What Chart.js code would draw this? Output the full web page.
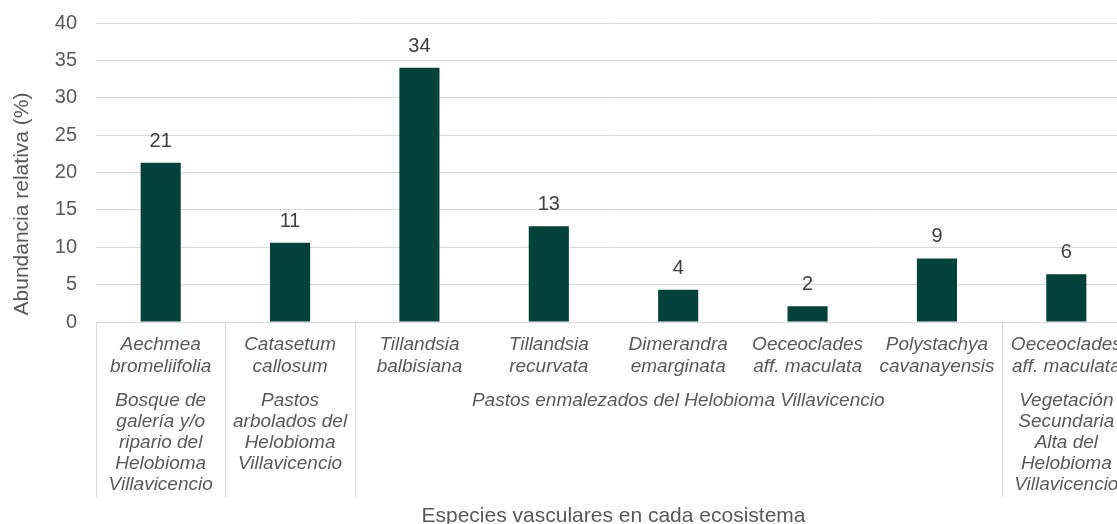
<!DOCTYPE html>
<html>
<head>
<meta charset="utf-8">
<script src="https://cdn.jsdelivr.net/npm/chart.js@4/dist/chart.umd.min.js"></script>
<style>
  html, body { margin: 0; padding: 0; background: #fff; overflow: hidden; }
  #wrap { width: 1140px; height: 524px; }
</style>
</head>
<body>
<div id="wrap"><canvas id="chart" width="1140" height="524"></canvas></div>
<script>
// species (first row of the category axis), one per bar
const species = [
  ["Aechmea", "bromeliifolia"],
  ["Catasetum", "callosum"],
  ["Tillandsia", "balbisiana"],
  ["Tillandsia", "recurvata"],
  ["Dimerandra", "emarginata"],
  ["Oeceoclades", "aff. maculata"],
  ["Polystachya", "cavanayensis"],
  ["Oeceoclades", "aff. maculata"]
];
// ecosystems (second row), with the first and last bar index they cover
const ecosystems = [
  { lines: ["Bosque de", "galería y/o", "ripario del", "Helobioma", "Villavicencio"], from: 0, to: 0 },
  { lines: ["Pastos", "arbolados del", "Helobioma", "Villavicencio"], from: 1, to: 1 },
  { lines: ["Pastos enmalezados del Helobioma Villavicencio"], from: 2, to: 6 },
  { lines: ["Vegetación", "Secundaria", "Alta del", "Helobioma", "Villavicencio"], from: 7, to: 7 }
];
const abundance = [21.3, 10.6, 34.0, 12.8, 4.3, 2.1, 8.5, 6.4];
const yTicks = [0, 5, 10, 15, 20, 25, 30, 35, 40];

const FONT = '"Liberation Sans", Arial, sans-serif';
const gridColor = '#d9d9d9';
const textColor = '#595959';

// draws value labels, the two-row category axis and the axis titles
const decorations = {
  id: 'decorations',
  afterDatasetsDraw(chart) {
    const ctx = chart.ctx;
    const x = chart.scales.x;
    const area = chart.chartArea;
    const meta = chart.getDatasetMeta(0);
    ctx.save();

    // value labels above bars
    ctx.fillStyle = '#404040';
    ctx.font = '20px ' + FONT;
    ctx.textAlign = 'center';
    ctx.textBaseline = 'alphabetic';
    meta.data.forEach((bar, i) => {
      ctx.fillText(Math.round(abundance[i]), bar.x, bar.y - 16);
    });

    // group dividers
    const half = (x.getPixelForValue(1) - x.getPixelForValue(0)) / 2;
    ctx.strokeStyle = gridColor;
    ctx.lineWidth = 1;
    const edges = [ecosystems[0].from].concat(ecosystems.map(e => e.to + 1));
    edges.forEach(idx => {
      const px = Math.round(x.getPixelForValue(idx) - half) + 0.5;
      ctx.beginPath();
      ctx.moveTo(px, area.bottom);
      ctx.lineTo(px, 497);
      ctx.stroke();
    });

    // species row
    ctx.fillStyle = textColor;
    ctx.font = 'italic 19px ' + FONT;
    ctx.textBaseline = 'middle';
    species.forEach((lines, i) => {
      const cx = x.getPixelForValue(i);
      lines.forEach((t, j) => ctx.fillText(t, cx, 345 + j * 22));
    });

    // ecosystem row
    ecosystems.forEach(g => {
      const cx = (x.getPixelForValue(g.from) + x.getPixelForValue(g.to)) / 2;
      g.lines.forEach((t, j) => ctx.fillText(t, cx, 401 + j * 21));
    });

    // axis titles
    ctx.font = '21px ' + FONT;
    ctx.textBaseline = 'alphabetic';
    ctx.fillText('Especies vasculares en cada ecosistema', (area.left + area.right) / 2, 522);
    ctx.translate(28, 204);
    ctx.rotate(-Math.PI / 2);
    ctx.fillText('Abundancia relativa (%)', 0, 0);
    ctx.restore();
  }
};

new Chart(document.getElementById('chart'), {
  type: 'bar',
  data: {
    labels: species.map(s => s.join(' ')),
    datasets: [{
      data: abundance,
      backgroundColor: '#03423a',
      barPercentage: 0.31,
      categoryPercentage: 1
    }]
  },
  options: {
    responsive: false,
    animation: false,
    layout: { padding: { top: 23, right: 9, left: 0, bottom: 0 } },
    plugins: { legend: { display: false }, tooltip: { enabled: false } },
    scales: {
      x: {
        grid: { display: false },
        border: { color: gridColor, width: 1 },
        ticks: { display: false },
        afterFit(scale) {
          scale.height = 202;
          scale.paddingLeft = 0;
          scale.paddingRight = 0;
        }
      },
      y: {
        min: 0,
        max: 40,
        afterBuildTicks(scale) { scale.ticks = yTicks.map(v => ({ value: v })); },
        grid: { color: gridColor, lineWidth: 1, drawTicks: false },
        border: { display: false },
        ticks: { color: textColor, font: { family: FONT, size: 20 }, padding: 19 },
        afterFit(scale) {
          scale.width = 96;
          scale.paddingTop = 0;
          scale.paddingBottom = 0;
        }
      }
    }
  },
  plugins: [decorations]
});
</script>
</body>
</html>
